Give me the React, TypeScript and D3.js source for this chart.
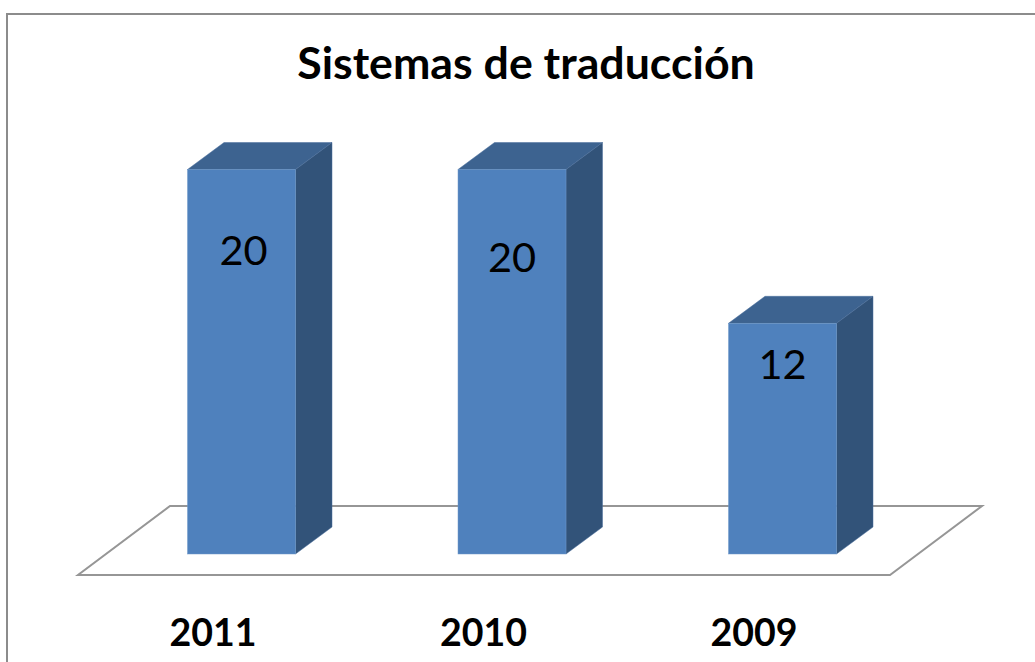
import React from "react";
import * as d3 from "d3";

const categories = ["2011", "2010", "2009"];
const values = [20, 20, 12];
const chartTitle = "Sistemas de traducción";

const labelDrop = [95, 102, 56];
const labelShift = [2, 0, 0];

const FONT = "Lato, Carlito, 'Open Sans', sans-serif";
const DX = 36.5;
const DY = 27;
const BASE = 554;
const BAR_W = 108;

export default function App() {
  const y = d3.scaleLinear().domain([0, 20]).range([BASE, 169.5]);
  const x = d3.scalePoint<string>().domain(categories).range([241.5, 782.5]);
  const poly = (pts: [number, number][]) => d3.line()(pts) + "Z";

  return (
    <svg
      width={1035}
      height={662}
      viewBox="0 0 1035 662"
      style={{ position: "absolute", left: 0, top: 0, background: "#fff", display: "block" }}
    >
      <path d="M7 662V14H1035" fill="none" stroke="#8c8c8c" strokeWidth={2} />
      <text x={526} y={79} textAnchor="middle" fontFamily={FONT} fontWeight={700} fontSize={44.7} fill="#000">
        {chartTitle}
      </text>

      <path
        d={poly([[78, 575], [890, 575], [982, 506], [170, 506]])}
        fill="#fff"
        stroke="#969696"
        strokeWidth={2}
      />

      {categories.map((c, i) => {
        const x0 = x(c)! - BAR_W / 2;
        const x1 = x0 + BAR_W;
        const top = y(values[i]);
        return (
          <g key={c}>
            <path d={poly([[x0, top], [x1, top], [x1 + DX, top - DY], [x0 + DX, top - DY]])} fill="#3d6390" stroke="#4a6f9c" strokeWidth={0.5} />
            <path d={poly([[x1, top], [x1 + DX, top - DY], [x1 + DX, BASE - DY], [x1, BASE]])} fill="#325379" stroke="#4a6f9c" strokeWidth={0.5} />
            <rect x={x0} y={top} width={BAR_W} height={BASE - top} fill="#4f81bd" stroke="#6f97c8" strokeWidth={0.5} />
            <text
              x={x(c)! + labelShift[i]}
              y={top + labelDrop[i]}
              textAnchor="middle"
              fontFamily={FONT}
              fontSize={41.5}
              fill="#000"
            >
              {values[i]}
            </text>
            <text
              x={x(c)! - 28.5}
              y={646}
              textAnchor="middle"
              fontFamily={FONT}
              fontWeight={700}
              fontSize={37.5}
              fill="#000"
            >
              {c}
            </text>
          </g>
        );
      })}
    </svg>
  );
}
